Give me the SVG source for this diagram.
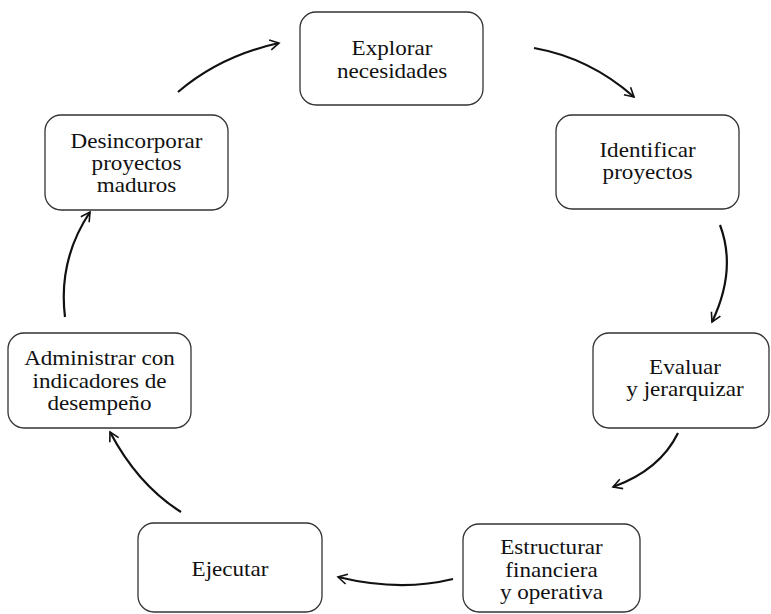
<svg xmlns="http://www.w3.org/2000/svg" width="771" height="614" viewBox="0 0 771 614">
<style>
.box{fill:#fff;stroke:#333;stroke-width:1.3}
.t{font-family:"Liberation Serif","Times New Roman",serif;font-size:21px;fill:#111;text-anchor:middle}
.c{fill:none;stroke:#111;stroke-width:2.2;marker-end:url(#ah)}
</style>
<defs>
<marker id="ah" viewBox="0 0 12 12" refX="10" refY="6" markerWidth="12" markerHeight="12" markerUnits="userSpaceOnUse" orient="auto">
<path d="M1,1 L10,6 L1,11" fill="none" stroke="#111" stroke-width="1.6"/>
</marker>
</defs>
<rect width="771" height="614" fill="#fff"/>
<g id="connectors">
<path class="c" d="M178,92 Q220,56 279,43"/>
<path class="c" d="M534,48 Q590,58 634,97"/>
<path class="c" d="M720,225 Q737,270 712,322"/>
<path class="c" d="M678,433 Q660,470 613,487"/>
<path class="c" d="M453,579 Q400,592 338,577"/>
<path class="c" d="M181,512 Q138,485 110,432"/>
<path class="c" d="M65,317 Q58,260 90,212"/>
</g>
<g id="explorar">
<rect class="box" x="300" y="12" width="183" height="93" rx="16"/>
<g transform="translate(392,0) scale(1.1,1)">
<text class="t" x="0" y="55">Explorar</text>
<text class="t" x="0" y="78">necesidades</text>
</g>
</g>
<g id="identificar">
<rect class="box" x="556" y="115" width="183" height="94" rx="16"/>
<g transform="translate(647.5,0) scale(1.1,1)">
<text class="t" x="0" y="157">Identificar</text>
<text class="t" x="0" y="179">proyectos</text>
</g>
</g>
<g id="evaluar">
<rect class="box" x="593" y="333" width="176" height="95" rx="16"/>
<g transform="translate(685,0) scale(1.1,1)">
<text class="t" x="0" y="374">Evaluar</text>
<text class="t" x="0" y="396">y jerarquizar</text>
</g>
</g>
<g id="estructurar">
<rect class="box" x="463" y="524" width="177" height="88" rx="16"/>
<g transform="translate(551.5,0) scale(1.1,1)">
<text class="t" x="0" y="554">Estructurar</text>
<text class="t" x="0" y="577">financiera</text>
<text class="t" x="0" y="599">y operativa</text>
</g>
</g>
<g id="ejecutar">
<rect class="box" x="138" y="523" width="184" height="89" rx="16"/>
<g transform="translate(230,0) scale(1.1,1)">
<text class="t" x="0" y="576">Ejecutar</text>
</g>
</g>
<g id="administrar">
<rect class="box" x="8" y="333" width="183" height="95" rx="16"/>
<g transform="translate(99.5,0) scale(1.1,1)">
<text class="t" x="0" y="365">Administrar con</text>
<text class="t" x="0" y="388">indicadores de</text>
<text class="t" x="0" y="410">desempeño</text>
</g>
</g>
<g id="desincorporar">
<rect class="box" x="45" y="115" width="183" height="95" rx="16"/>
<g transform="translate(136.5,0) scale(1.1,1)">
<text class="t" x="0" y="148">Desincorporar</text>
<text class="t" x="0" y="170">proyectos</text>
<text class="t" x="0" y="192">maduros</text>
</g>
</g>
</svg>
